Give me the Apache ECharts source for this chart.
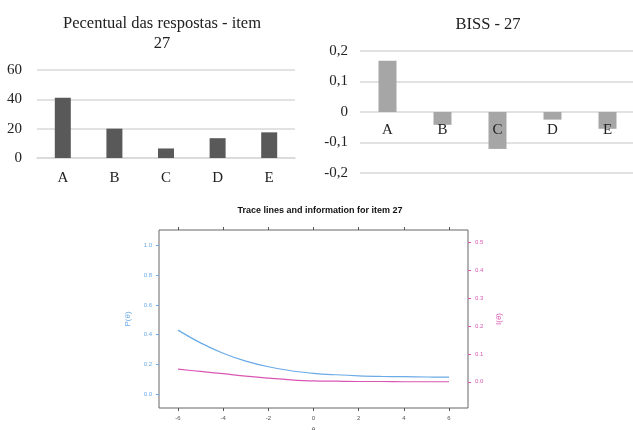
<!DOCTYPE html>
<html><head><meta charset="utf-8">
<script src="https://cdn.jsdelivr.net/npm/echarts@6/dist/echarts.min.js"></script>
<style>html,body{margin:0;padding:0;background:#fff}#c{width:633px;height:430px}</style>
</head><body><div id="c"></div>
<script>
const categories = ['A','B','C','D','E'];
const percentValues = [41, 20, 6.5, 13.5, 17.5];
const percentTicks = [0, 20, 40, 60];
const bissValues = [0.168, -0.042, -0.121, -0.025, -0.055];
const bissTicks = [-0.2, -0.1, 0, 0.1, 0.2];
const theta = [-6,-5,-4,-3,-2,-1,0,1,2,3,4,5,6];
const probValues = [0.431,0.345,0.275,0.222,0.184,0.157,0.140,0.130,0.123,0.119,0.117,0.115,0.114];
const infoValues = [0.045,0.037,0.029,0.020,0.013,0.007,0.003,0.002,0.001,0.001,0.000,0.000,0.000];
const thetaTicks = [-6,-4,-2,0,2,4,6];
const probTicks = [0,0.2,0.4,0.6,0.8,1.0];
const infoTicks = [0,0.1,0.2,0.3,0.4,0.5];

const serif = 'Liberation Serif';
const sans = 'Liberation Sans';
const blue = '#6aaae6';
const pink = '#d957b4';
const grey = '#d9d9d9';

const chart = echarts.init(document.getElementById('c'));
chart.setOption({
  animation: false,
  title: [
    {text: 'Pecentual das respostas - item\n27', left: 157, top: 9, textAlign: 'center',
     textStyle: {fontFamily: serif, fontSize: 16.5, fontWeight: 'normal', color: '#222', lineHeight: 20}},
    {text: 'BISS - 27', left: 483, top: 11, textAlign: 'center',
     textStyle: {fontFamily: serif, fontSize: 16.5, fontWeight: 'normal', color: '#222'}},
    {text: 'Trace lines and information for item 27', left: 315, top: 201, textAlign: 'center',
     textStyle: {fontFamily: sans, fontSize: 9, fontWeight: 'bold', color: '#111'}}
  ],
  grid: [
    {left: 37, top: 70, width: 258, height: 88, outerBoundsMode: 'none'},
    {left: 360, top: 51, width: 275, height: 122, outerBoundsMode: 'none'},
    {left: 159, top: 230, width: 309, height: 178, outerBoundsMode: 'none', show: true, borderColor: '#666', borderWidth: 1, backgroundColor: 'transparent'}
  ],
  xAxis: [
    {gridIndex: 0, type: 'category', data: categories,
     axisLine: {onZero: false, lineStyle: {color: grey, width: 1.5}}, axisTick: {show: false},
     axisLabel: {fontFamily: serif, fontSize: 15, color: '#222', margin: 13}},
    {gridIndex: 1, type: 'category', data: categories, z: 5, position: 'bottom', offset: -60,
     axisLine: {onZero: false, show: false}, axisTick: {show: false},
     axisLabel: {fontFamily: serif, fontSize: 15, color: '#222', margin: 10}},
    {gridIndex: 2, type: 'value', min: -6.84, max: 6.84, position: 'bottom',
     name: 'θ', nameLocation: 'middle', nameGap: 19, nameTextStyle: {fontFamily: sans, fontSize: 7, color: '#666'},
     axisLine: {show: false, onZero: false}, splitLine: {show: false},
     axisTick: {show: true, length: 3, customValues: thetaTicks, lineStyle: {color: '#555'}},
     axisLabel: {fontFamily: sans, fontSize: 6, color: '#555', margin: 7, customValues: thetaTicks}},
    {gridIndex: 2, type: 'value', min: -6.84, max: 6.84, position: 'top',
     axisLine: {show: false, onZero: false}, splitLine: {show: false},
     axisTick: {show: true, length: 3, customValues: thetaTicks, lineStyle: {color: '#555'}},
     axisLabel: {show: false}}
  ],
  yAxis: [
    {gridIndex: 0, type: 'value', min: 0, max: 60, interval: 20,
     axisLine: {show: false, onZero: false}, axisTick: {show: false},
     splitLine: {lineStyle: {color: grey, width: 1.5}},
     axisLabel: {fontFamily: serif, fontSize: 15, color: '#222', margin: 15}},
    {gridIndex: 1, type: 'value', min: -0.2, max: 0.2, interval: 0.1,
     axisLine: {show: false, onZero: false}, axisTick: {show: false},
     splitLine: {lineStyle: {color: grey, width: 1.5}},
     axisLabel: {fontFamily: serif, fontSize: 15, color: '#222', margin: 12,
       formatter: v => (Math.round(v * 10) / 10).toString().replace('.', ',')}},
    {gridIndex: 2, type: 'value', min: -0.094, max: 1.106, position: 'left',
     name: 'P(θ)', nameLocation: 'middle', nameRotate: 90, nameGap: 27,
     nameTextStyle: {fontFamily: sans, fontSize: 8, color: blue},
     axisLine: {show: false, onZero: false}, splitLine: {show: false},
     axisTick: {show: true, length: 3, customValues: probTicks, lineStyle: {color: blue}},
     axisLabel: {fontFamily: sans, fontSize: 6, color: blue, margin: 7, customValues: probTicks,
       formatter: v => v.toFixed(1)}},
    {gridIndex: 2, type: 'value', min: -0.094, max: 0.544, position: 'right',
     name: 'I(θ)', nameLocation: 'middle', nameRotate: 90, nameGap: 27,
     nameTextStyle: {fontFamily: sans, fontSize: 8, color: pink},
     axisLine: {show: false, onZero: false}, splitLine: {show: false},
     axisTick: {show: true, length: 3, customValues: infoTicks, lineStyle: {color: pink}},
     axisLabel: {fontFamily: sans, fontSize: 6, color: pink, margin: 7, customValues: infoTicks,
       formatter: v => v.toFixed(1)}}
  ],
  series: [
    {type: 'bar', xAxisIndex: 0, yAxisIndex: 0, data: percentValues, barWidth: 16,
     itemStyle: {color: '#595959'}},
    {type: 'bar', xAxisIndex: 1, yAxisIndex: 1, data: bissValues, barWidth: 18,
     itemStyle: {color: '#a6a6a6'}},
    {type: 'line', xAxisIndex: 2, yAxisIndex: 2, data: theta.map((t, i) => [t, probValues[i]]),
     smooth: 0.4, showSymbol: false, lineStyle: {color: blue, width: 1.2}},
    {type: 'line', xAxisIndex: 2, yAxisIndex: 3, data: theta.map((t, i) => [t, infoValues[i]]),
     smooth: 0.4, showSymbol: false, lineStyle: {color: pink, width: 1.2}}
  ]
});
</script></body></html>
